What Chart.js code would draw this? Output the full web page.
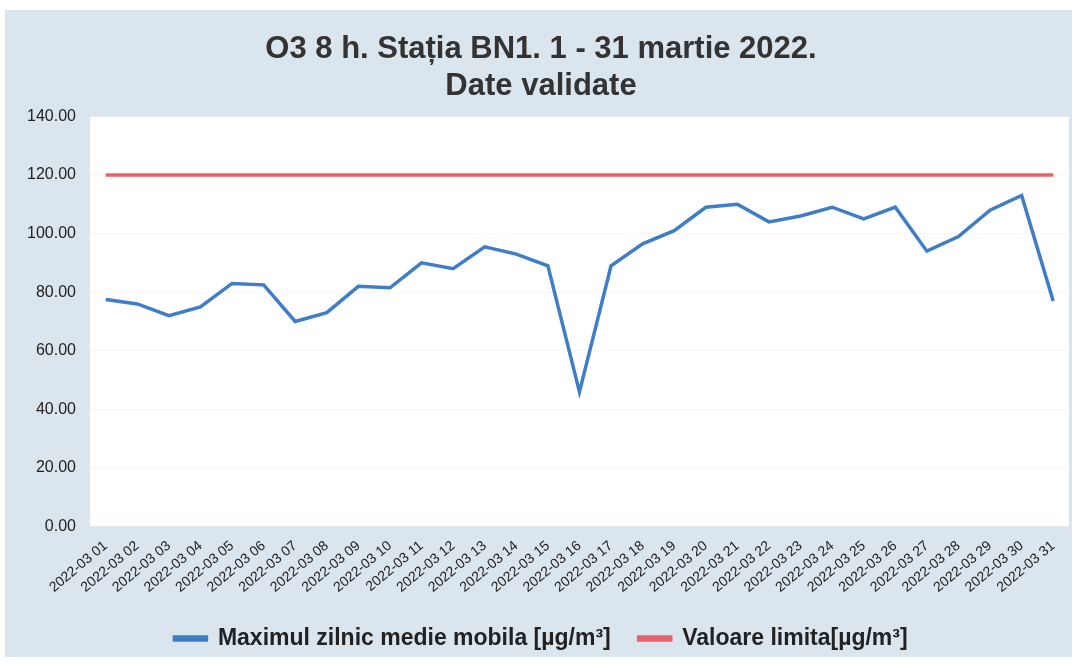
<!DOCTYPE html>
<html>
<head>
<meta charset="utf-8">
<script src="https://cdn.jsdelivr.net/npm/chart.js@4.4.0/dist/chart.umd.min.js"></script>
<style>
  html, body { margin: 0; padding: 0; background: #ffffff; }
  #wrap { position: relative; width: 1077px; height: 664px; }
</style>
</head>
<body>
<div id="wrap"><canvas id="o3Chart"></canvas></div>
<script>
// Data
const days = [];
for (let d = 1; d <= 31; d++) days.push('2022-03 ' + String(d).padStart(2, '0'));

const maxDaily = [77.5, 76, 72, 75, 83, 82.5, 70, 73, 82, 81.5,
                  90, 88, 95.5, 93, 89, 46, 89, 96.5, 101, 109,
                  110, 104, 106, 109, 105, 109, 94, 99, 108, 113, 77];
const limitValue = Array(31).fill(120);

const yTicks = [0, 20, 40, 60, 80, 100, 120, 140];

Chart.defaults.font.family = "'Liberation Sans', Arial, sans-serif";
Chart.defaults.color = '#222';

// paints the grey scan background and the white plot area
const backdrop = {
    id: 'backdrop',
    beforeDraw(chart) {
        const { ctx, chartArea: a } = chart;
        ctx.save();
        ctx.fillStyle = '#dbe5ee';
        ctx.fillRect(5, 10, 1067, 647);
        ctx.fillStyle = '#ffffff';
        ctx.fillRect(a.left, a.top, a.right - a.left, a.bottom - a.top);
        ctx.restore();
    }
};

new Chart(document.getElementById('o3Chart'), {
    type: 'line',
    data: {
        labels: days,
        datasets: [{
            label: 'Maximul zilnic medie mobila [µg/m³]',
            data: maxDaily,
            borderColor: '#3f7dc4',
            backgroundColor: '#3f7dc4',
            borderWidth: 3.5,
            pointRadius: 0,
            tension: 0
        }, {
            label: 'Valoare limita[µg/m³]',
            data: limitValue,
            borderColor: '#e8606c',
            backgroundColor: '#e8606c',
            borderWidth: 3.5,
            pointRadius: 0,
            tension: 0
        }]
    },
    options: {
        responsive: true,
        maintainAspectRatio: false,
        animation: false,
        layout: { padding: { left: 13, right: 8, top: 31, bottom: 4 } },
        plugins: {
            title: {
                display: true,
                text: ['O3 8 h. Stația BN1. 1 - 31 martie 2022.', 'Date validate'],
                font: { size: 31, weight: 'bold' },
                color: '#333',
                lineHeight: 1.04,
                padding: { top: 0, bottom: 11 }
            },
            legend: {
                position: 'bottom',
                labels: {
                    boxWidth: 32,
                    boxHeight: 3,
                    padding: 28,
                    font: { size: 23, weight: 'bold' },
                    color: '#222'
                }
            },
            tooltip: { enabled: false }
        },
        scales: {
            x: {
                offset: true,
                grid: { display: false },
                border: { display: false },
                ticks: { minRotation: 40, maxRotation: 40, autoSkip: false, font: { size: 14 }, color: '#222' }
            },
            y: {
                min: 0,
                max: 140,
                afterBuildTicks: axis => { axis.ticks = yTicks.map(v => ({ value: v })); },
                grid: { color: 'rgba(0,0,0,0.04)', drawTicks: false },
                border: { display: false },
                ticks: { padding: 14, font: { size: 16 }, color: '#222', callback: v => v.toFixed(2) }
            }
        }
    },
    plugins: [backdrop]
});
</script>
</body>
</html>
